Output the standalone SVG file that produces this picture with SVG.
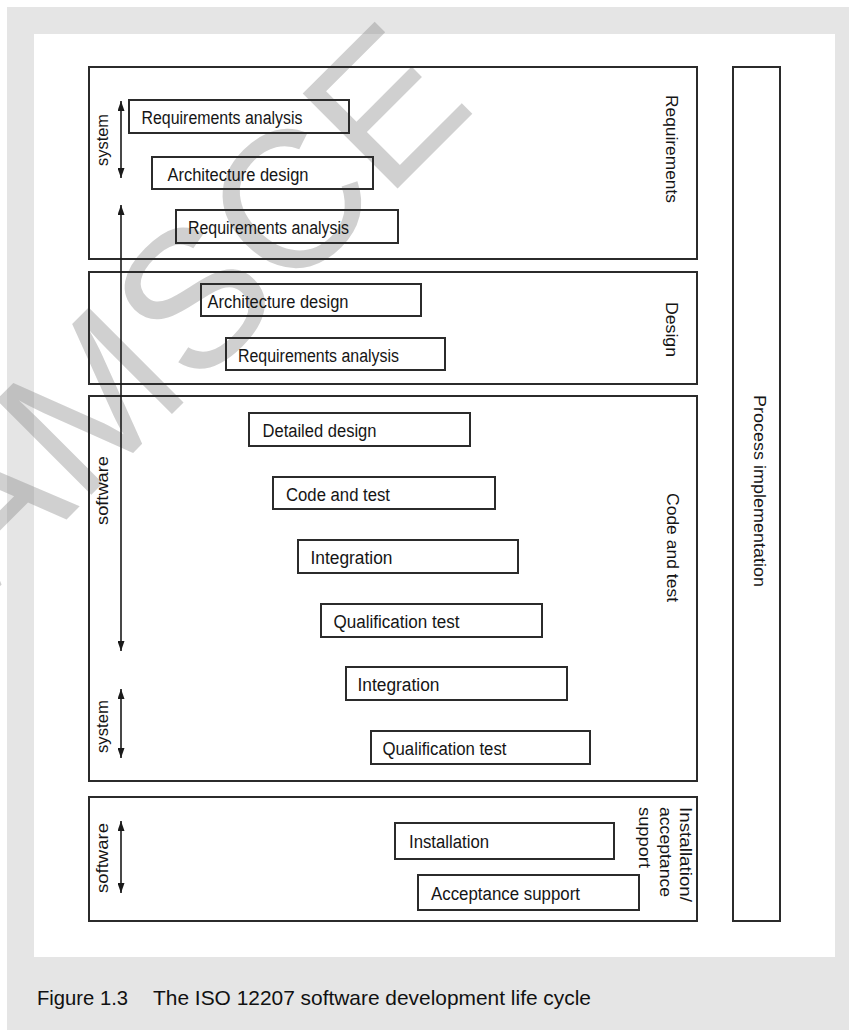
<svg xmlns="http://www.w3.org/2000/svg" width="849" height="1030" viewBox="0 0 849 1030">
<style>
.frame{fill:none;stroke:#2b2b2b;stroke-width:2}
.box{fill:none;stroke:#2b2b2b;stroke-width:2}
.t{font-family:"Liberation Sans",Arial,sans-serif;font-size:18px;fill:#151515}
.side{font-family:"Liberation Sans",Arial,sans-serif;font-size:17px;fill:#151515}
.lab{font-family:"Liberation Sans",Arial,sans-serif;font-size:16px;fill:#151515}
.cap{font-family:"Liberation Sans",Arial,sans-serif;font-size:21px;fill:#111}
.wm{font-family:"Liberation Sans",Arial,sans-serif;font-size:195px;fill:#8a8a8a;fill-opacity:0.4}
.conn{stroke:#1a1a1a;stroke-width:1.6;fill:none;marker-start:url(#ah);marker-end:url(#ah)}
</style>
<defs>
<marker id="ah" markerUnits="userSpaceOnUse" markerWidth="10" markerHeight="7" refX="10" refY="3.5" orient="auto-start-reverse">
<path d="M0,0 L10,3.5 L0,7 z" fill="#1a1a1a"/>
</marker>
</defs>
<rect x="0" y="0" width="849" height="1030" fill="#ffffff"/>
<rect x="7" y="7" width="842" height="1023" fill="#e5e5e5"/>
<rect x="34" y="34" width="801" height="923" fill="#ffffff"/>
<text class="wm" transform="translate(-12,598) rotate(-45)">AMSCE</text>

<g id="phase-requirements">
<rect class="frame" x="89" y="67" width="608" height="192"/>
<text class="side" transform="translate(666,95) rotate(90)" textLength="108" lengthAdjust="spacingAndGlyphs">Requirements</text>
</g>
<g id="phase-design">
<rect class="frame" x="89" y="272" width="608" height="112"/>
<text class="side" transform="translate(666,302) rotate(90)" textLength="55" lengthAdjust="spacingAndGlyphs">Design</text>
</g>
<g id="phase-code">
<rect class="frame" x="89" y="396" width="608" height="385"/>
<text class="side" transform="translate(667,493) rotate(90)" textLength="109" lengthAdjust="spacingAndGlyphs">Code and test</text>
</g>
<g id="phase-install">
<rect class="frame" x="89" y="797" width="608" height="124"/>
<text class="side" transform="translate(680,807) rotate(90)" textLength="95" lengthAdjust="spacingAndGlyphs">Installation/</text>
<text class="side" transform="translate(659.5,807) rotate(90)" textLength="90" lengthAdjust="spacingAndGlyphs">acceptance</text>
<text class="side" transform="translate(639,807) rotate(90)" textLength="61" lengthAdjust="spacingAndGlyphs">support</text>
</g>
<g id="process-implementation">
<rect class="frame" x="733" y="67" width="47" height="854"/>
<text class="side" transform="translate(754,395) rotate(90)" textLength="192" lengthAdjust="spacingAndGlyphs">Process implementation</text>
</g>

<g id="n1"><rect class="box" x="129" y="100" width="220" height="33"/><text class="t" x="141.5" y="124" textLength="161" lengthAdjust="spacingAndGlyphs">Requirements analysis</text></g>
<g id="n2"><rect class="box" x="152" y="157" width="221" height="32"/><text class="t" x="167.5" y="180.5" textLength="141" lengthAdjust="spacingAndGlyphs">Architecture design</text></g>
<g id="n3"><rect class="box" x="176" y="210" width="222" height="33"/><text class="t" x="188" y="234" textLength="161" lengthAdjust="spacingAndGlyphs">Requirements analysis</text></g>
<g id="n4"><rect class="box" x="201" y="284" width="220" height="32"/><text class="t" x="207.5" y="307.5" textLength="141" lengthAdjust="spacingAndGlyphs">Architecture design</text></g>
<g id="n5"><rect class="box" x="226" y="338" width="219" height="32"/><text class="t" x="238" y="361.5" textLength="161" lengthAdjust="spacingAndGlyphs">Requirements analysis</text></g>
<g id="n6"><rect class="box" x="249" y="413" width="221" height="33"/><text class="t" x="262.5" y="437" textLength="114" lengthAdjust="spacingAndGlyphs">Detailed design</text></g>
<g id="n7"><rect class="box" x="273" y="477" width="222" height="32"/><text class="t" x="286" y="500.5" textLength="104" lengthAdjust="spacingAndGlyphs">Code and test</text></g>
<g id="n8"><rect class="box" x="298" y="540" width="220" height="33"/><text class="t" x="310.5" y="564" textLength="82" lengthAdjust="spacingAndGlyphs">Integration</text></g>
<g id="n9"><rect class="box" x="321" y="604" width="221" height="33"/><text class="t" x="333.5" y="628" textLength="126" lengthAdjust="spacingAndGlyphs">Qualification test</text></g>
<g id="n10"><rect class="box" x="346" y="667" width="221" height="33"/><text class="t" x="357.5" y="691" textLength="82" lengthAdjust="spacingAndGlyphs">Integration</text></g>
<g id="n11"><rect class="box" x="371" y="731" width="219" height="33"/><text class="t" x="382.5" y="755" textLength="124" lengthAdjust="spacingAndGlyphs">Qualification test</text></g>
<g id="n12"><rect class="box" x="395" y="823" width="219" height="36"/><text class="t" x="409" y="848" textLength="80" lengthAdjust="spacingAndGlyphs">Installation</text></g>
<g id="n13"><rect class="box" x="418" y="875" width="221" height="35"/><text class="t" x="431" y="900" textLength="149" lengthAdjust="spacingAndGlyphs">Acceptance support</text></g>

<g id="connectors">
<line class="conn" x1="121" y1="101" x2="121" y2="178"/>
<line class="conn" x1="121" y1="205" x2="121" y2="651"/>
<line class="conn" x1="121" y1="689" x2="121" y2="758"/>
<line class="conn" x1="121" y1="821" x2="121" y2="893"/>
</g>
<g id="scope-labels">
<text class="lab" transform="translate(108,166) rotate(-90)" textLength="52" lengthAdjust="spacingAndGlyphs">system</text>
<text class="lab" transform="translate(108,525) rotate(-90)" textLength="69" lengthAdjust="spacingAndGlyphs">software</text>
<text class="lab" transform="translate(108,753) rotate(-90)" textLength="53" lengthAdjust="spacingAndGlyphs">system</text>
<text class="lab" transform="translate(108,893) rotate(-90)" textLength="70" lengthAdjust="spacingAndGlyphs">software</text>
</g>
<g id="caption">
<text class="cap" x="37" y="1005" textLength="91" lengthAdjust="spacingAndGlyphs">Figure 1.3</text>
<text class="cap" x="153" y="1005" textLength="438" lengthAdjust="spacingAndGlyphs">The ISO 12207 software development life cycle</text>
</g>
</svg>
